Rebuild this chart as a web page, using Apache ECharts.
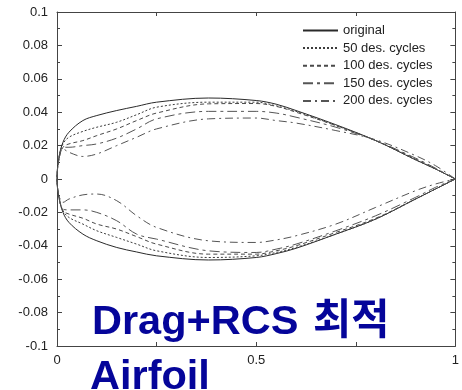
<!DOCTYPE html>
<html>
<head>
<meta charset="utf-8">
<script src="https://cdn.jsdelivr.net/npm/echarts@6/dist/echarts.min.js"></script>
<style>
  html, body { margin: 0; padding: 0; background: #fff; }
  #chart { width: 462px; height: 390px; }
</style>
</head>
<body>
<div id="chart"></div>
<script>
// Chordwise stations (x/c) shared by every profile
const stations = [0, 0.005, 0.015, 0.03, 0.065, 0.1, 0.15, 0.2, 0.25, 0.38, 0.5, 0.55, 0.6, 0.7, 0.8, 0.9, 0.95, 1];

// Upper-surface ordinates per design stage
const upperOriginal = [0, 0.013, 0.022, 0.028, 0.035, 0.038, 0.041, 0.0435, 0.046, 0.0485, 0.047, 0.0448, 0.041, 0.0325, 0.023, 0.0115, 0.006, 0];
const upper50       = [0, 0.013, 0.021, 0.025, 0.0285, 0.031, 0.034, 0.0385, 0.043, 0.046, 0.046, 0.0438, 0.0405, 0.032, 0.023, 0.0115, 0.006, 0];
const upper100      = [0, 0.012, 0.019, 0.021, 0.023, 0.026, 0.030, 0.035, 0.0395, 0.045, 0.0452, 0.0435, 0.040, 0.032, 0.023, 0.012, 0.006, 0];
const upper150      = [0, 0.012, 0.019, 0.019, 0.020, 0.021, 0.0245, 0.030, 0.036, 0.0405, 0.0405, 0.0395, 0.037, 0.031, 0.023, 0.0125, 0.0065, 0];
const upper200      = [0, 0.012, 0.018, 0.016, 0.0135, 0.015, 0.020, 0.025, 0.030, 0.036, 0.0365, 0.035, 0.0335, 0.029, 0.0235, 0.014, 0.008, 0];

// Lower-surface ordinates per design stage
const lowerOriginal = [0, -0.011, -0.020, -0.026, -0.033, -0.037, -0.041, -0.0437, -0.046, -0.0485, -0.047, -0.0447, -0.0415, -0.033, -0.024, -0.012, -0.006, 0];
const lower50       = [0, -0.011, -0.019, -0.023, -0.027, -0.031, -0.035, -0.039, -0.043, -0.047, -0.046, -0.044, -0.041, -0.033, -0.024, -0.012, -0.006, 0];
const lower100      = [0, -0.011, -0.019, -0.021, -0.0235, -0.027, -0.030, -0.0345, -0.039, -0.045, -0.045, -0.043, -0.040, -0.032, -0.0235, -0.012, -0.006, 0];
const lower150      = [0, -0.011, -0.018, -0.0185, -0.0185, -0.020, -0.025, -0.033, -0.036, -0.043, -0.044, -0.042, -0.039, -0.031, -0.022, -0.011, -0.005, 0];
const lower200      = [0, -0.010, -0.014, -0.012, -0.0095, -0.009, -0.013, -0.022, -0.029, -0.037, -0.038, -0.0365, -0.034, -0.027, -0.017, -0.007, -0.003, 0];

const seriesNames = ['original', '50 des. cycles', '100 des. cycles', '150 des. cycles', '200 des. cycles'];
const xTickLabels = ['0', '0.5', '1'];

const uppers = [upperOriginal, upper50, upper100, upper150, upper200];
const lowers = [lowerOriginal, lower50, lower100, lower150, lower200];

const lineLooks = [
  { color: '#2a2a2a', type: 'solid' },
  { color: '#3c3c3c', type: [2, 2] },
  { color: '#4a4a4a', type: [4, 3] },
  { color: '#555555', type: [10, 4, 3, 4] },
  { color: '#555555', type: [8, 4, 2, 4] }
];

// Closed contour: trailing edge -> upper surface -> leading edge -> lower surface -> trailing edge
function contour(up, lo) {
  const pts = [];
  for (let i = stations.length - 1; i >= 0; i--) pts.push([stations[i], up[i]]);
  for (let i = 1; i < stations.length; i++) pts.push([stations[i], lo[i]]);
  return pts;
}

const series = seriesNames.map((name, k) => ({
  name: name,
  type: 'line',
  xAxisIndex: 0,
  yAxisIndex: 0,
  data: contour(uppers[k], lowers[k]),
  smooth: 0.35,
  symbol: 'none',
  clip: false,
  lineStyle: { color: lineLooks[k].color, width: 1, type: lineLooks[k].type },
  itemStyle: { color: lineLooks[k].color },
  emphasis: { disabled: true },
  animation: false
}));

const axisColor = '#444';
const labelFont = { color: '#222', fontSize: 13, fontFamily: "'Liberation Sans', Arial, sans-serif" };
const headingFont = "bold 41.5px 'Liberation Sans', 'Noto Sans CJK KR', sans-serif";
const headingColor = '#05059a';

const chart = echarts.init(document.getElementById('chart'), null, { renderer: 'canvas' });
chart.setOption({
  backgroundColor: '#fff',
  animation: false,
  grid: { left: 57, right: 3, top: 12, bottom: 44, containLabel: false },
  legend: {
    data: seriesNames,
    orient: 'vertical',
    left: 302,
    top: 24,
    padding: 0,
    itemWidth: 35,
    itemHeight: 12,
    itemGap: 4.6,
    itemStyle: { opacity: 0 },
    textStyle: { color: '#222', fontSize: 13, fontFamily: "'Liberation Sans', Arial, sans-serif" },
    selectedMode: false
  },
  xAxis: [
    {
      type: 'value', position: 'bottom', min: 0, max: 1, interval: 0.25,
      axisLine: { show: true, onZero: false, lineStyle: { color: axisColor, width: 1 } },
      axisTick: { show: true, inside: true, length: 4, lineStyle: { color: axisColor } },
      splitLine: { show: false },
      axisLabel: Object.assign({
        margin: 8,
        formatter: v => {
          const s = String(Math.round(v * 100) / 100);
          return xTickLabels.indexOf(s) >= 0 ? s : '';
        }
      }, labelFont)
    },
    {
      type: 'value', position: 'top', min: 0, max: 1, interval: 0.25,
      axisLine: { show: true, onZero: false, lineStyle: { color: axisColor, width: 1 } },
      axisTick: { show: true, inside: true, length: 4, lineStyle: { color: axisColor } },
      splitLine: { show: false },
      axisLabel: { show: false }
    }
  ],
  yAxis: [
    {
      type: 'value', position: 'left', min: -0.1, max: 0.1, interval: 0.02,
      axisLine: { show: true, onZero: false, lineStyle: { color: axisColor, width: 1 } },
      axisTick: { show: true, inside: true, length: 5, lineStyle: { color: axisColor } },
      minorTick: { show: true, splitNumber: 2, length: 3, lineStyle: { color: axisColor } },
      splitLine: { show: false },
      axisLabel: Object.assign({ margin: 9 }, labelFont)
    },
    {
      type: 'value', position: 'right', min: -0.1, max: 0.1, interval: 0.02,
      axisLine: { show: true, onZero: false, lineStyle: { color: axisColor, width: 1 } },
      axisTick: { show: true, inside: true, length: 5, lineStyle: { color: axisColor } },
      minorTick: { show: true, splitNumber: 2, length: 3, lineStyle: { color: axisColor } },
      splitLine: { show: false },
      axisLabel: { show: false }
    }
  ],
  series: series,
  graphic: [
    {
      type: 'text', left: 92, top: 302, z: 100,
      style: { text: 'Drag+RCS', fill: headingColor, font: headingFont }
    },
    {
      type: 'text', left: 313, top: 302, z: 100,
      style: { text: '최적', fill: headingColor, font: headingFont }
    },
    {
      type: 'text', left: 90, top: 357, z: 100,
      style: { text: 'Airfoil', fill: headingColor, font: headingFont }
    }
  ]
});
</script>
</body>
</html>
